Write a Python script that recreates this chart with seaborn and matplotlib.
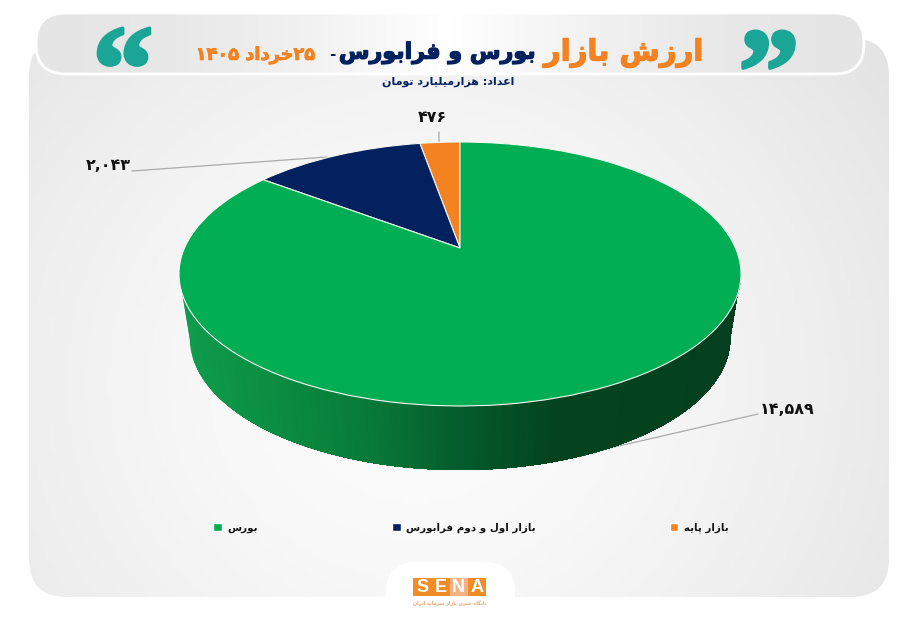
import re
import numpy as np
import matplotlib
matplotlib.use("Agg")
import matplotlib.pyplot as plt
import matplotlib.patheffects as pe
from matplotlib.patches import FancyBboxPatch, Rectangle
from matplotlib.transforms import Transform
import seaborn as sns

# ---------- data ----------
slice_values = [476, 2043, 14589]
slice_names = ["بازار پایه", "بازار اول و دوم فرابورس", "بورس"]
slice_colors = ["#f58220", "#03215f", "#02ae53"]
title_orange = "ارزش بازار"
title_navy = "بورس و فرابورس"
title_date = "۲۵خرداد ۱۴۰۵"
subtitle = "اعداد: هزارمیلیارد تومان"
logo_letters = ["S", "E", "N", "A"]
logo_caption = "پایگاه خبری بازار سرمایه ایران"

# ---------- Persian shaping (matplotlib has no bidi / joining) ----------
FORMS = {
    "ا": (0xFE8D, 0xFE8E), "د": (0xFEA9, 0xFEAA), "ر": (0xFEAD, 0xFEAE),
    "ز": (0xFEAF, 0xFEB0), "و": (0xFEED, 0xFEEE),
    "ب": (0xFE8F, 0xFE90, 0xFE91, 0xFE92), "پ": (0xFB56, 0xFB57, 0xFB58, 0xFB59),
    "ت": (0xFE95, 0xFE96, 0xFE97, 0xFE98), "خ": (0xFEA5, 0xFEA6, 0xFEA7, 0xFEA8),
    "س": (0xFEB1, 0xFEB2, 0xFEB3, 0xFEB4), "ش": (0xFEB5, 0xFEB6, 0xFEB7, 0xFEB8),
    "ع": (0xFEC9, 0xFECA, 0xFECB, 0xFECC), "ف": (0xFED1, 0xFED2, 0xFED3, 0xFED4),
    "گ": (0xFB92, 0xFB93, 0xFB94, 0xFB95), "ل": (0xFEDD, 0xFEDE, 0xFEDF, 0xFEE0),
    "م": (0xFEE1, 0xFEE2, 0xFEE3, 0xFEE4), "ن": (0xFEE5, 0xFEE6, 0xFEE7, 0xFEE8),
    "ه": (0xFEE9, 0xFEEA, 0xFEEB, 0xFEEC), "ی": (0xFBFC, 0xFBFD, 0xFBFE, 0xFBFF),
}


def shape(text):
    out = []
    for i, ch in enumerate(text):
        f = FORMS.get(ch)
        if f is None:
            out.append(ch)
            continue
        prev = text[i - 1] if i else ""
        nxt = text[i + 1] if i + 1 < len(text) else ""
        join_prev = prev in FORMS and len(FORMS[prev]) == 4
        join_next = nxt in FORMS and len(f) == 4
        if join_prev and join_next:
            out.append(chr(f[3]))
        elif join_prev:
            out.append(chr(f[1]))
        elif join_next:
            out.append(chr(f[2]))
        else:
            out.append(chr(f[0]))
    tokens = re.findall(r"[۰-۹]+|[^۰-۹]+", "".join(out))
    return "".join(t if t[0] in "۰۱۲۳۴۵۶۷۸۹" else t[::-1] for t in tokens[::-1])


def fa_number(v):
    return f"{v:,}".translate(str.maketrans("0123456789", "۰۱۲۳۴۵۶۷۸۹"))


def heavy(col, w=0.6):
    return [pe.withStroke(linewidth=w, foreground=col)]


# ---------- theme ----------
sns.set_theme(style="white")
plt.rcParams["font.family"] = ["DejaVu Sans"]
plt.rcParams["font.weight"] = "bold"
W, H = 900, 623
fig = plt.figure(figsize=(9, 6.23), dpi=100, facecolor="white")

# ---------- backdrop in pixel coordinates ----------
bg = fig.add_axes([0, 0, 1, 1], zorder=0)
bg.set_xlim(0, W)
bg.set_ylim(H, 0)
bg.axis("off")

yy, xx = np.mgrid[0:1:120j, 0:1:200j]
rad = np.sqrt(((xx - 0.45) / 0.72) ** 2 + ((yy - 0.62) / 1.05) ** 2)
panel_img = bg.imshow(np.clip(rad, 0, 1), extent=(29, 889, 597, 38), cmap=sns.blend_palette(
    ["#fdfdfd", "#f8f8f8", "#eeeeee", "#e2e2e2"], as_cmap=True), vmin=0, vmax=1, aspect="auto", zorder=1)
panel = FancyBboxPatch((29 + 38, 38 + 38), 860 - 76, 559 - 76, boxstyle="round,pad=38,rounding_size=38",
                       fc="none", ec="none", transform=bg.transData)
bg.add_patch(panel)
panel_img.set_clip_path(panel)

# white tab behind the logo
bg.add_patch(FancyBboxPatch((386 + 30, 562 + 30), 129 - 60, 80, boxstyle="round,pad=30,rounding_size=30",
                            fc="white", ec="none", zorder=2))

# header pill
hx = np.abs(np.linspace(-1, 1, 300))[None, :]
head_img = bg.imshow(hx, extent=(36, 864, 74, 13), cmap=sns.blend_palette(
    ["#ffffff", "#f2f2f2", "#e8e8e8", "#e5e5e5"], as_cmap=True), vmin=0, vmax=1, aspect="auto", zorder=3)
pill = FancyBboxPatch((36 + 30, 13 + 30), 828 - 60, 61 - 60, boxstyle="round,pad=30,rounding_size=30",
                      fc="none", ec="white", lw=2, zorder=4)
bg.add_patch(pill)
head_img.set_clip_path(pill)
bg.set_xlim(0, W)
bg.set_ylim(H, 0)

# header text
NAVY, ORANGE, TEAL = "#03215f", "#f58220", "#1ba596"
bg.text(703, 53, shape(title_orange), color=ORANGE, fontsize=21, ha="right", va="center", zorder=5,
        path_effects=heavy(ORANGE, 0.9))
bg.text(536, 53, shape(title_navy), color=NAVY, fontsize=16.0, ha="right", va="center", zorder=5,
        path_effects=heavy(NAVY, 0.9))
bg.text(336, 55, "-", color=NAVY, fontsize=11, ha="right", va="center", zorder=5)
bg.text(315, 55, shape(title_date), color=ORANGE, fontsize=12.8, ha="right", va="center", zorder=5,
        path_effects=heavy(ORANGE))
bg.text(514, 82, shape(subtitle), color=NAVY, fontsize=8.0, ha="right", va="center", zorder=5)
bg.text(123, 80, "\u201c", color=TEAL, fontsize=88, family="Liberation Serif", ha="center", va="center", zorder=5,
        path_effects=heavy(TEAL, 2.5))
bg.text(769, 83, "\u201d", color=TEAL, fontsize=88, family="Liberation Serif", ha="center", va="center", zorder=5,
        path_effects=heavy(TEAL, 2.5))

# logo
logo_colors = ["#f28c28", "#f28c28", "#f4b183", "#f28c28"]
for i, (letter, col) in enumerate(zip(logo_letters, logo_colors)):
    x0 = 413 + i * 18.25
    bg.add_patch(Rectangle((x0, 578), 18.25, 18, fc=col, ec="none", zorder=5))
    bg.text(x0 + 9.1, 587.5, letter, color="white", fontsize=13, family="Liberation Sans",
            ha="center", va="center", zorder=6)
bg.text(486, 604, shape(logo_caption), color="#e8a468", fontsize=3.5, ha="right", va="center", zorder=6)

# ---------- pie ----------
# pixel box of the top ellipse: x 179..741, y 142..406
ax = fig.add_axes([179 / W, 1 - 406 / H, 562 / W, 264 / H], zorder=1)


class Perspective(Transform):
    """Projective tilt: keeps the unit circle, moves the pie centre up."""
    input_dims = output_dims = 2
    has_inverted = False
    is_separable = False

    def __init__(self, k):
        super().__init__()
        self.k = k

    def transform_non_affine(self, values):
        v = np.asarray(values, dtype=float)
        d = 1 + self.k * v[:, 1]
        return np.column_stack((np.sqrt(1 - self.k ** 2) * v[:, 0] / d, (v[:, 1] + self.k) / d))


palette = sns.color_palette(slice_colors)
wedges, _ = ax.pie(slice_values, colors=palette, startangle=90, counterclock=True, radius=1,
                   wedgeprops=dict(edgecolor="#f4f8f2", linewidth=0.8))
ax.set_aspect("auto")
ax.set_xlim(-1, 1)
ax.set_ylim(-1, 1)
persp = Perspective(0.197) + ax.transData
for w in wedges:
    w.set_transform(persp)
    w.set_clip_on(False)
    w.set_zorder(3)

# extruded rim, shaded left to right; each strip runs on under the next to hide seams
depth = 64 / 132
taper = 0.962
n_strips = 160
theta = np.pi + np.arccos(np.linspace(1, -1, n_strips + 1))
rim_cols = sns.blend_palette(["#0f9c4c", "#0b8c42", "#087a38", "#055c2c", "#03441f", "#03421f", "#043f20"], n_strips)
for i in range(n_strips):
    t = np.linspace(theta[i], theta[-1], 60)
    px = np.r_[np.cos(t), taper * np.cos(t[::-1])]
    py = np.r_[np.sin(t), np.sin(t[::-1]) - depth]
    ax.fill(px, py, color=rim_cols[i], lw=0, clip_on=False, zorder=1 + i / n_strips)
ax.set_xlim(-1, 1)
ax.set_ylim(-1, 1)

# ---------- value labels with leader lines ----------
LEAD = dict(arrowstyle="-", color="#ababab", lw=0.9, shrinkA=0, shrinkB=0)
label_spec = [((447, 118), (439, 142), (439, 132), "right"),
              ((131, 165), (327, 157), (132, 171), "right"),
              ((760, 409), (610, 448), (758, 414), "left")]
for val, (tp, end, start, ha) in zip(slice_values, label_spec):
    bg.annotate("", xy=end, xytext=start, arrowprops=LEAD, zorder=2)
    bg.text(tp[0], tp[1], fa_number(val), fontsize=11.4, color="#111111", ha=ha, va="center", zorder=5)

# ---------- legend ----------
leg = fig.legend(wedges[::-1], [shape(n) for n in slice_names[::-1]], ncol=3, frameon=False, fontsize=7.4,
                 loc="center", bbox_to_anchor=(471 / W, 1 - 528 / H), columnspacing=13.0, handlelength=0.85,
                 handleheight=0.85, handletextpad=0.55, labelcolor="#111111")
for h in leg.legend_handles:
    h.set_edgecolor("white")
    h.set_linewidth(1)

fig.savefig("out.png", dpi=100, facecolor="white")
